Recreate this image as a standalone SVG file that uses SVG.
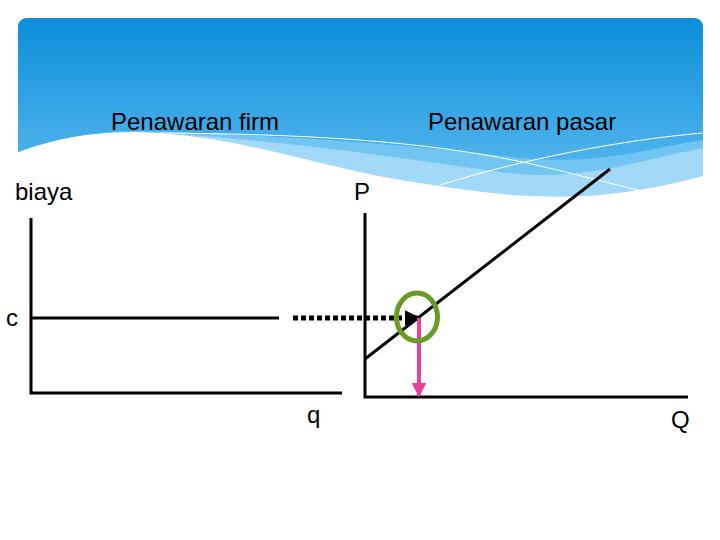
<svg xmlns="http://www.w3.org/2000/svg" width="720" height="540" viewBox="0 0 720 540">
<defs>
<linearGradient id="sky" x1="0" y1="18" x2="0" y2="190" gradientUnits="userSpaceOnUse">
<stop offset="0" stop-color="#0b8ed9"/>
<stop offset="1" stop-color="#5cbaef"/>
</linearGradient>
<marker id="blk" viewBox="0 0 10 10" refX="9" refY="5" markerWidth="3.2" markerHeight="3.2" markerUnits="strokeWidth" orient="auto">
<path d="M0,0 L10,5 L0,10 Z" fill="#000"/>
</marker>
<marker id="pink" viewBox="0 0 10 10" refX="9" refY="5" markerWidth="3.6" markerHeight="3.6" markerUnits="strokeWidth" orient="auto">
<path d="M0,0 L10,5 L0,10 Z" fill="#e8409c"/>
</marker>
<style>
.ax{stroke:#000;stroke-width:3;fill:none}
.t{font-family:"Liberation Sans",Arial,sans-serif;font-size:24px;fill:#000}
.wl{stroke:#fff;stroke-width:1;fill:none}
</style>
</defs>
<rect width="720" height="540" fill="#fff"/>
<g id="background">
<path d="M18,152 C60,136 110,128 170,134 C260,142 330,170 420,183 C480,193 540,200 600,195 C650,190 680,182 703,176 V28 Q703,18 693,18 H28 Q18,18 18,28 Z" fill="#a2d8f8"/>
<path d="M18,152 C60,136 110,128 170,134 C280,140 400,158 500,172 C580,183 640,160 703,148 V28 Q703,18 693,18 H28 Q18,18 18,28 Z" fill="#72c5f3"/>
<path d="M18,152 C60,136 110,128 170,132 C300,136 420,146 520,158 C600,166 660,146 703,140 V28 Q703,18 693,18 H28 Q18,18 18,28 Z" fill="url(#sky)"/>
<path class="wl" d="M160,133 C300,134 420,140 527,163 C580,175 620,186 650,193"/>
<path class="wl" d="M440,185 C520,160 620,140 703,133"/>
</g>
<g id="firm-chart">
<path class="ax" d="M31,218 V393 H342"/>
<line class="ax" x1="31" y1="318" x2="279" y2="318"/>
<text class="t" x="111" y="130">Penawaran firm</text>
<text class="t" x="15" y="200">biaya</text>
<text class="t" x="6" y="326">c</text>
<text class="t" x="307" y="423">q</text>
</g>
<g id="market-chart">
<path class="ax" d="M365,213 V397 H688"/>
<line class="ax" x1="365" y1="359" x2="610" y2="169"/>
<text class="t" x="428" y="130">Penawaran pasar</text>
<text class="t" x="354" y="200">P</text>
<text class="t" x="671" y="428">Q</text>
</g>
<g id="connectors">
<line x1="293" y1="318" x2="419" y2="318" stroke="#000" stroke-width="5" stroke-dasharray="5 3" marker-end="url(#blk)"/>
<line x1="419" y1="318" x2="419" y2="396" stroke="#e8409c" stroke-width="4" marker-end="url(#pink)"/>
</g>
<g id="highlight">
<ellipse cx="417" cy="317" rx="20.5" ry="24" fill="none" stroke="#6a9a23" stroke-width="5"/>
</g>
</svg>
